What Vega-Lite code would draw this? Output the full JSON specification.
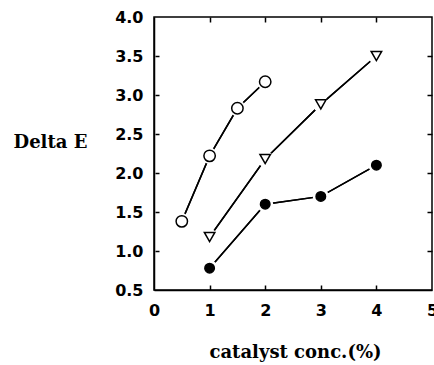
{
  "$schema": "https://vega.github.io/schema/vega-lite/v6.json",
  "width": 278,
  "height": 273,
  "autosize": "none",
  "padding": {"left": 154, "top": 17, "right": 2, "bottom": 75},
  "background": "white",
  "config": {
    "view": {"stroke": "black", "strokeWidth": 1.5},
    "axis": {
      "grid": false,
      "domainColor": "black",
      "domainWidth": 1.5,
      "tickColor": "black",
      "tickWidth": 1.5,
      "labelColor": "black",
      "labelFont": "DejaVu Sans",
      "labelFontWeight": "bold",
      "labelFontSize": 16,
      "titleColor": "black",
      "titleFont": "DejaVu Serif",
      "titleFontWeight": "bold",
      "titleFontSize": 18
    }
  },
  "data": {
    "values": [
      {"series": "A", "conc": 0.5, "deltaE": 1.38},
      {"series": "A", "conc": 1, "deltaE": 2.22},
      {"series": "A", "conc": 1.5, "deltaE": 2.83},
      {"series": "A", "conc": 2, "deltaE": 3.17},
      {"series": "B", "conc": 1, "deltaE": 1.18},
      {"series": "B", "conc": 2, "deltaE": 2.18},
      {"series": "B", "conc": 3, "deltaE": 2.88},
      {"series": "B", "conc": 4, "deltaE": 3.5},
      {"series": "C", "conc": 1, "deltaE": 0.78},
      {"series": "C", "conc": 2, "deltaE": 1.6},
      {"series": "C", "conc": 3, "deltaE": 1.7},
      {"series": "C", "conc": 4, "deltaE": 2.1}
    ]
  },
  "resolve": {"axis": {"x": "independent", "y": "independent"}},
  "layer": [
    {
      "mark": {"type": "line", "color": "black", "strokeWidth": 1.5},
      "encoding": {
        "x": {
          "field": "conc", "type": "quantitative",
          "scale": {"domain": [0, 5], "nice": false, "zero": false},
          "axis": {
            "orient": "bottom", "values": [0, 1, 2, 3, 4, 5], "ticks": false, "tickSize": 0,
            "format": "d", "labelPadding": 12, "labelFlush": false,
            "title": "catalyst conc.(%)", "titleBaseline": "middle", "titleY": 62, "titleX": 141
          }
        },
        "y": {
          "field": "deltaE", "type": "quantitative",
          "scale": {"domain": [0.5, 4.0], "nice": false, "zero": false},
          "axis": {
            "orient": "left", "values": [0.5, 1, 1.5, 2, 2.5, 3, 3.5, 4], "ticks": false, "tickSize": 0,
            "format": ".1f", "labelPadding": 11, "labelFlush": false,
            "title": "Delta E", "titleAngle": 0, "titleAlign": "center", "titleBaseline": "middle",
            "titleX": -104, "titleY": 125
          }
        },
        "detail": {"field": "series"}
      }
    },
    {
      "mark": {"type": "line", "color": "black", "strokeWidth": 1.5},
      "encoding": {
        "x": {"field": "conc", "type": "quantitative",
          "axis": {"orient": "top", "values": [1, 2, 3, 4], "labels": false, "domain": false, "title": null, "offset": -5, "tickSize": 5}},
        "y": {"field": "deltaE", "type": "quantitative",
          "axis": {"orient": "right", "values": [1, 1.5, 2, 2.5, 3, 3.5], "labels": false, "domain": false, "title": null, "offset": -5, "tickSize": 5}},
        "detail": {"field": "series"}
      }
    },
    {
      "mark": {"type": "point", "filled": true, "color": "white", "size": 260, "shape": "circle", "opacity": 1},
      "encoding": {
        "x": {"field": "conc", "type": "quantitative",
          "axis": {"orient": "bottom", "values": [1, 2, 3, 4], "labels": false, "domain": false, "title": null, "offset": -5, "tickSize": 5}},
        "y": {"field": "deltaE", "type": "quantitative",
          "axis": {"orient": "left", "values": [1, 1.5, 2, 2.5, 3, 3.5], "labels": false, "domain": false, "title": null, "offset": -5, "tickSize": 4}}
      }
    },
    {
      "mark": {"type": "point", "strokeWidth": 1.5, "stroke": "black", "opacity": 1},
      "encoding": {
        "x": {"field": "conc", "type": "quantitative", "axis": null},
        "y": {"field": "deltaE", "type": "quantitative", "axis": null},
        "shape": {"field": "series", "type": "nominal",
          "scale": {"domain": ["A", "B", "C"], "range": ["circle", "triangle-down", "circle"]}, "legend": null},
        "fill": {"field": "series", "type": "nominal",
          "scale": {"domain": ["A", "B", "C"], "range": ["white", "white", "black"]}, "legend": null},
        "size": {"field": "series", "type": "nominal",
          "scale": {"domain": ["A", "B", "C"], "range": [130, 90, 120]}, "legend": null}
      }
    }
  ]
}
